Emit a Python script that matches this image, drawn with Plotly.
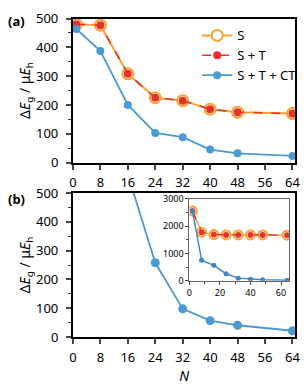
import plotly.graph_objects as go

W, H = 308, 389

# Panel (a) data
N_a = [1, 8, 16, 24, 32, 40, 48, 64]
S_a = [480, 477, 308, 225, 215, 185, 175, 170]
ST_a = [480, 477, 308, 225, 215, 185, 175, 170]
STCT_a = [464, 387, 200, 103, 88, 45, 32, 23]

# Panel (b) data (main: S+T+CT only visible)
N_b = [2, 8, 16, 24, 32, 40, 48, 64]
S_b = [2550, 1780, 1690, 1680, 1680, 1680, 1680, 1670]
ST_b = [2550, 1780, 1690, 1680, 1680, 1680, 1680, 1670]
STCT_b = [2550, 750, 565, 258, 98, 57, 41, 22]

x_ticks = [0, 8, 16, 24, 32, 40, 48, 56, 64]

ORANGE = "#F7A233"
RED = "#E5332A"
BLUE = "#4B9AD2"
FONT = "Noto Sans"


def px_x(p):
    return p / W


def px_y(p):
    return 1 - p / H


fig = go.Figure()

# Panel (a)
fig.add_trace(go.Scatter(x=N_a, y=S_a, name="S", mode="lines+markers",
                         line=dict(color=ORANGE, width=2),
                         marker=dict(size=11, color="white", line=dict(color=ORANGE, width=2)),
                         xaxis="x", yaxis="y"))
fig.add_trace(go.Scatter(x=N_a, y=ST_a, name="S + T", mode="lines+markers",
                         line=dict(color=RED, width=1.6, dash="dash"),
                         marker=dict(size=8, color=RED),
                         xaxis="x", yaxis="y"))
fig.add_trace(go.Scatter(x=N_a, y=STCT_a, name="S + T + CT", mode="lines+markers",
                         line=dict(color=BLUE, width=1.8),
                         marker=dict(size=8, color=BLUE),
                         xaxis="x", yaxis="y"))

# Panel (b)
fig.add_trace(go.Scatter(x=N_b, y=STCT_b, mode="lines+markers", showlegend=False,
                         line=dict(color=BLUE, width=1.8),
                         marker=dict(size=9, color=BLUE),
                         xaxis="x2", yaxis="y2", cliponaxis=True))

# Inset
fig.add_trace(go.Scatter(x=N_b, y=S_b, mode="lines+markers", showlegend=False,
                         line=dict(color=ORANGE, width=1.5),
                         marker=dict(size=9, color="white", line=dict(color=ORANGE, width=2)),
                         xaxis="x3", yaxis="y3"))
fig.add_trace(go.Scatter(x=N_b, y=ST_b, mode="lines+markers", showlegend=False,
                         line=dict(color=RED, width=1.3, dash="dash"),
                         marker=dict(size=6, color=RED),
                         xaxis="x3", yaxis="y3"))
fig.add_trace(go.Scatter(x=N_b, y=STCT_b, mode="lines+markers", showlegend=False,
                         line=dict(color="#3E86C4", width=1.5),
                         marker=dict(size=5, color="#3E86C4"),
                         xaxis="x3", yaxis="y3"))

main_x = dict(range=[0, 64.8], tickvals=x_ticks, ticks="outside", ticklen=5, tickwidth=1.5,
              showline=True, linewidth=2, linecolor="black", mirror=True,
              showgrid=False, zeroline=False, ticklabelstandoff=2,
              tickfont=dict(size=13, color="black", family=FONT),
              domain=[px_x(71), px_x(300)])
main_y = dict(range=[0, 500], dtick=100, ticks="outside", ticklen=5, tickwidth=1.5,
              showline=True, linewidth=2, linecolor="black", mirror=True,
              showgrid=False, zeroline=False, ticklabelstandoff=5,
              minor=dict(dtick=50, ticks="outside", ticklen=3, tickwidth=1.2),
              tickfont=dict(size=13, color="black", family=FONT),
              title=dict(text="Δ<i>E</i><sub>g</sub> / μ<i>E</i><sub>h</sub>",
                         font=dict(size=14, color="black", family=FONT), standoff=0))

inset_ax = dict(showline=True, linewidth=1, linecolor="#666", mirror=True,
                ticks="outside", ticklen=3, tickwidth=1, tickcolor="#444",
                showgrid=False, zeroline=False,
                tickfont=dict(size=9, color="black", family=FONT))

fig.update_layout(
    width=W, height=H, margin=dict(l=0, r=0, t=0, b=0),
    paper_bgcolor="white", plot_bgcolor="white",
    font=dict(family=FONT, color="black"),
    xaxis=dict(main_x, anchor="y"),
    yaxis=dict(main_y, anchor="x", domain=[px_y(161), px_y(10)]),
    xaxis2=dict(main_x, anchor="y2",
                title=dict(text="<i>N</i>", standoff=6,
                           font=dict(size=14, family=FONT, color="black"))),
    yaxis2=dict(main_y, anchor="x2", domain=[px_y(344), px_y(193)]),
    xaxis3=dict(inset_ax, anchor="y3", range=[0, 65.5], tickvals=[0, 20, 40, 60],
                minor=dict(dtick=10, ticks="outside", ticklen=2),
                domain=[px_x(191), px_x(294)]),
    yaxis3=dict(inset_ax, anchor="x3", range=[0, 3000], tickvals=[0, 1000, 2000, 3000],
                minor=dict(dtick=500, ticks="outside", ticklen=2),
                domain=[px_y(285), px_y(199)]),
    legend=dict(x=px_x(199), y=px_y(12), xanchor="left", yanchor="top",
                bgcolor="rgba(0,0,0,0)", font=dict(size=13, family=FONT, color="black"),
                tracegroupgap=0, itemwidth=30),
    showlegend=True,
)

fig.add_annotation(text="<b>(a)</b>", x=px_x(2), y=px_y(13), xref="paper", yref="paper",
                   xanchor="left", yanchor="middle", showarrow=False,
                   font=dict(size=13, family=FONT, color="black"))
fig.add_annotation(text="<b>(b)</b>", x=px_x(2), y=px_y(199), xref="paper", yref="paper",
                   xanchor="left", yanchor="middle", showarrow=False,
                   font=dict(size=13, family=FONT, color="black"))

fig.write_html("out.html", config={"displayModeBar": False},
               post_script="document.body.style.margin='0';document.body.style.overflow='hidden';")
